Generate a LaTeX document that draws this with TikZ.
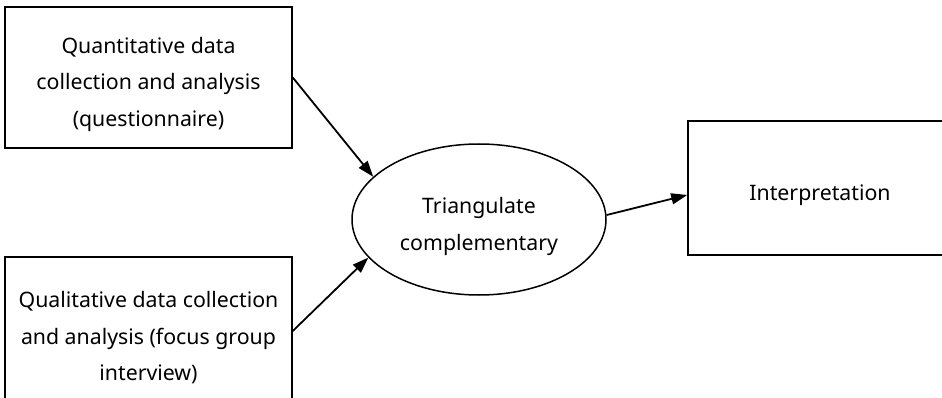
\documentclass[tikz,border=0pt]{standalone}
\usepackage{fontspec}
\setmainfont{Noto Sans}
\usetikzlibrary{shapes.geometric, arrows.meta}

% extra room above the first line, pushes the text a bit lower
\newcommand{\toplift}{\rule{0pt}{30pt}}

\tikzset{
  boxnode/.style={draw, line width=1.5pt, align=center, inner sep=0pt,
    font=\fontsize{21.3}{36.5}\selectfont},
  ovalnode/.style={boxnode, ellipse},
  flowarrow/.style={line width=1.8pt, -{Triangle[length=16pt,width=11pt]}}
}

\begin{document}
\begin{tikzpicture}[x=1pt, y=-1pt]
  \useasboundingbox (0,0) rectangle (942,398);

  % Inputs
  \node[boxnode, minimum width=287pt, minimum height=141pt] (quant) at (148.5,77.5)
    {\toplift Quantitative data\\collection and analysis\\(questionnaire)};
  \node[boxnode, minimum width=287pt, minimum height=148pt] (qual) at (148.5,331)
    {\toplift Qualitative data collection\\and analysis (focus group\\interview)};

  % Triangulation
  \node[ovalnode, minimum width=254pt, minimum height=151pt] (tri) at (479,219.5)
    {\toplift Triangulate\\complementary};

  % Output
  \node[boxnode, minimum width=264pt, minimum height=134pt] (interp) at (820,188)
    {\toplift Interpretation};

  % Arrows
  \draw[flowarrow] (quant.east) -- (tri.158.6);
  \draw[flowarrow] (qual.east) -- (tri.199);
  \draw[flowarrow] (tri.2.5) -- (interp.183.4);
\end{tikzpicture}
\end{document}
